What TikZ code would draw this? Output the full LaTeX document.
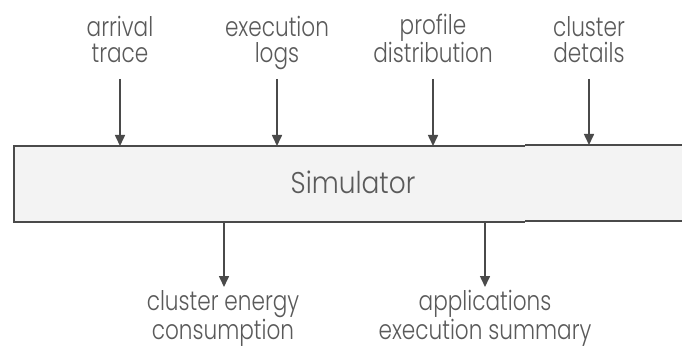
\documentclass[tikz,border=0pt]{standalone}
\usepackage{fontspec}
\setmainfont{Poppins Light}
\newfontfamily\lblfont[FakeStretch=0.8]{Poppins Light}
\newfontfamily\simfont[FakeStretch=0.88]{Poppins Light}
\usetikzlibrary{arrows.meta}
\definecolor{ink}{HTML}{5A5A5A}
\definecolor{lineink}{HTML}{4A4A4A}
\definecolor{boxfill}{HTML}{F3F3F3}
\begin{document}
\begin{tikzpicture}[x=1pt,y=-1pt,
  lbl/.style={text=ink,font=\lblfont\fontsize{27}{26}\selectfont,align=center,inner sep=0pt,anchor=base},
  arr/.style={draw=lineink,line width=1.6pt,-{Triangle[length=11pt,width=10pt]}}]
\useasboundingbox (0,0) rectangle (682,347);
\fill[boxfill] (14,146) rectangle (690,222);
\draw[lineink,line width=1.6pt] (525,146) -- (14,146) -- (14,222) -- (525,222);
\draw[lineink,line width=1.6pt] (525,145) -- (690,145);
\draw[lineink,line width=1.6pt] (525,221) -- (690,221);
\node[text=ink,font=\simfont\fontsize{30}{30}\selectfont,inner sep=0pt,anchor=base] (sim) at (353,194) {Simulator};
\node[lbl] (t1) at (120,63) {arrival\\trace};
\node[lbl] (t2) at (277,63) {execution\\logs};
\node[lbl] (t3) at (433,63) {profile\\distribution};
\node[lbl] (t4) at (589,63) {cluster\\details};
\node[lbl] (b1) at (223,339) {cluster energy\\consumption};
\node[lbl] (b2) at (485,339) {applications\\execution summary};
\coordinate (s1) at (120,79); \coordinate (s2) at (277,79);
\coordinate (s3) at (433,79); \coordinate (s4) at (589,79);
\coordinate (a1) at (120,146); \coordinate (a2) at (277,146);
\coordinate (a3) at (433,146); \coordinate (a4) at (589,145);
\coordinate (c1) at (224,222); \coordinate (c2) at (485,222);
\coordinate (e1) at (224,287); \coordinate (e2) at (485,287);
\draw[arr] (s1) -- (a1);
\draw[arr] (s2) -- (a2);
\draw[arr] (s3) -- (a3);
\draw[arr] (s4) -- (a4);
\draw[arr] (c1) -- (e1);
\draw[arr] (c2) -- (e2);
\end{tikzpicture}
\end{document}
